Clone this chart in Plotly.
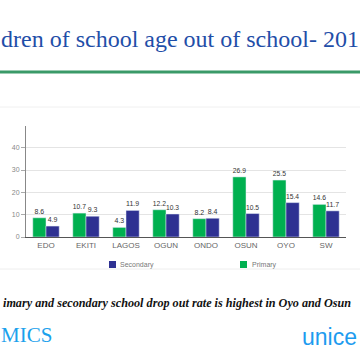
import plotly.graph_objects as go

states = ["EDO", "EKITI", "LAGOS", "OGUN", "ONDO", "OSUN", "OYO", "SW"]
primary = [8.6, 10.7, 4.3, 12.2, 8.2, 26.9, 25.5, 14.6]
secondary = [4.9, 9.3, 11.9, 10.3, 8.4, 10.5, 15.4, 11.7]
y_ticks = [0, 10, 20, 30, 40]

GREEN = "#00b050"
BLUE = "#2e3192"

W, H = 360, 360
L, R, T, B = 26, 14, 126, 123
PW, PH = W - L - R, H - T - B


def px(x):
    return (x - L) / PW


def py(y):
    return (H - B - y) / PH


fig = go.Figure()
fig.add_trace(go.Bar(
    x=states, y=primary, name="Primary", marker_color=GREEN,
    text=[f"{v:.1f}" for v in primary], textposition="outside",
    textfont=dict(size=7, color="#333", family="Liberation Sans"),
    cliponaxis=False, showlegend=False,
))
fig.add_trace(go.Bar(
    x=states, y=secondary, name="Secondary", marker_color=BLUE,
    text=[f"{v:.1f}" for v in secondary], textposition="outside",
    textfont=dict(size=7, color="#333", family="Liberation Sans"),
    cliponaxis=False, showlegend=False,
))

shapes = [
    dict(type="line", xref="paper", yref="paper", x0=px(0), x1=px(360),
         y0=py(72), y1=py(72), line=dict(color="#3a9a68", width=3)),
    dict(type="line", xref="paper", yref="paper", x0=px(0), x1=px(360),
         y0=py(107), y1=py(107), line=dict(color="#f0f0f0", width=1)),
    dict(type="line", xref="paper", yref="paper", x0=px(0), x1=px(360),
         y0=py(269), y1=py(269), line=dict(color="#eeeeee", width=1)),
    dict(type="rect", xref="paper", yref="paper", x0=px(109), x1=px(116),
         y0=py(268), y1=py(261), fillcolor=BLUE, line=dict(width=0)),
    dict(type="rect", xref="paper", yref="paper", x0=px(240), x1=px(247),
         y0=py(268), y1=py(261), fillcolor=GREEN, line=dict(width=0)),
]

annotations = [
    dict(text="dren of school age out of school- 201", x=px(180), y=py(39),
         xref="paper", yref="paper", showarrow=False, xanchor="center", yanchor="middle",
         font=dict(family="Liberation Serif", size=24, color="#1f4ea8")),
    dict(text="Secondary", x=px(118), y=py(265), xref="paper", yref="paper",
         showarrow=False, xanchor="left", yanchor="middle",
         font=dict(family="Liberation Sans", size=7, color="#777")),
    dict(text="Primary", x=px(250), y=py(265), xref="paper", yref="paper",
         showarrow=False, xanchor="left", yanchor="middle",
         font=dict(family="Liberation Sans", size=7, color="#777")),
    dict(text="<b><i>imary and secondary school drop out rate is highest in Oyo and Osun</i></b>",
         x=px(177), y=py(303), xref="paper", yref="paper", showarrow=False,
         xanchor="center", yanchor="middle",
         font=dict(family="Liberation Serif", size=12.2, color="#111")),
    dict(text="MICS", x=px(-1), y=py(335), xref="paper", yref="paper", showarrow=False,
         xanchor="left", yanchor="middle",
         font=dict(family="Liberation Serif", size=21, color="#1ba1ec")),
    dict(text="unice", x=px(300), y=py(337), xref="paper", yref="paper", showarrow=False,
         xanchor="left", yanchor="middle",
         font=dict(family="Liberation Sans", size=23, color="#1d9bef")),
]

fig.update_layout(
    width=W, height=H,
    margin=dict(l=L, r=R, t=T, b=B),
    paper_bgcolor="white", plot_bgcolor="white",
    barmode="group", bargap=0.34, bargroupgap=0,
    shapes=shapes, annotations=annotations,
    xaxis=dict(showline=True, linecolor="#555", linewidth=1, ticks="",
               tickfont=dict(family="Liberation Sans", size=8, color="#666"),
               showgrid=False, fixedrange=True),
    yaxis=dict(range=[0, 49.7], tickvals=y_ticks, showline=True, linecolor="#888",
               linewidth=1, ticks="outside", ticklen=4, tickcolor="#aaa",
               showgrid=True, gridcolor="#e4e4e4", gridwidth=1, zeroline=False,
               tickfont=dict(family="Liberation Sans", size=7, color="#888"),
               fixedrange=True),
)

fig.write_html(
    "out.html",
    config={"displayModeBar": False},
    post_script="document.body.style.margin='0';document.body.style.overflow='hidden';",
)
